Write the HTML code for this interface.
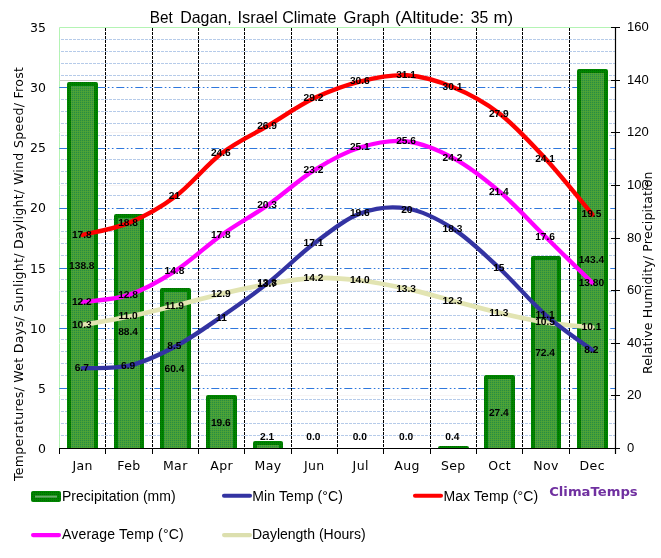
<!DOCTYPE html>
<html><head><meta charset="utf-8"><title>Bet Dagan, Israel Climate Graph</title>
<style>html,body{margin:0;padding:0;background:#fff}svg{display:block}</style></head>
<body>
<svg width="661" height="558" viewBox="0 0 661 558">
<defs><clipPath id="pc"><rect x="59.50" y="26.50" width="556.00" height="421.50"/></clipPath>
<pattern id="hb" width="2" height="2" patternUnits="userSpaceOnUse"><rect width="2" height="2" fill="#40a040"/><rect x="0" y="0" width="1" height="1" fill="#2f8c3c"/><rect x="1" y="1" width="1" height="1" fill="#58a42c"/></pattern>
<pattern id="hd" width="2" height="2" patternUnits="userSpaceOnUse"><rect width="2" height="2" fill="#008600"/><rect x="0" y="0" width="1" height="1" fill="#006a00"/></pattern>
</defs>
<rect width="661" height="558" fill="#fff"/>
<path d="M59.5,448.0 V27.5 H615.5" fill="none" stroke="#b4f4b4" stroke-width="1"/>
<path d="M59.5,435.5 H615.5 M59.5,423.5 H615.5 M59.5,411.5 H615.5 M59.5,399.5 H615.5 M59.5,375.5 H615.5 M59.5,363.5 H615.5 M59.5,351.5 H615.5 M59.5,339.5 H615.5 M59.5,315.5 H615.5 M59.5,303.5 H615.5 M59.5,291.5 H615.5 M59.5,279.5 H615.5 M59.5,255.5 H615.5 M59.5,243.5 H615.5 M59.5,231.5 H615.5 M59.5,219.5 H615.5 M59.5,195.5 H615.5 M59.5,183.5 H615.5 M59.5,171.5 H615.5 M59.5,159.5 H615.5 M59.5,135.5 H615.5 M59.5,123.5 H615.5 M59.5,111.5 H615.5 M59.5,99.5 H615.5 M59.5,75.5 H615.5 M59.5,63.5 H615.5 M59.5,51.5 H615.5 M59.5,39.5 H615.5" fill="none" stroke="#b6cbe9" stroke-width="1" stroke-dasharray="3 1" stroke-dashoffset="2.5"/>
<path d="M59.5,395.5 H615.5 M59.5,343.5 H615.5 M59.5,290.5 H615.5 M59.5,238.5 H615.5 M59.5,185.5 H615.5 M59.5,132.5 H615.5 M59.5,80.5 H615.5" fill="none" stroke="#f7f4f4" stroke-width="1"/>
<path d="M59.5,80.5 H615.5" fill="none" stroke="#cbcbc8" stroke-width="1"/>
<path d="M59.3,388.5 H615.5 M59.3,328.5 H615.5 M59.3,268.5 H615.5 M59.3,208.5 H615.5 M59.3,148.5 H615.5 M59.3,87.5 H615.5" fill="none" stroke="#1265d8" stroke-opacity="0.88" stroke-width="1.05" stroke-dasharray="8 2.5 1.6 2.5 1.6 2.8"/>
<path d="M105.5,28.0 V448.5 M152.5,28.0 V448.5 M198.5,28.0 V448.5 M244.5,28.0 V448.5 M291.5,28.0 V448.5 M337.5,28.0 V448.5 M383.5,28.0 V448.5 M430.5,28.0 V448.5 M476.5,28.0 V448.5 M522.5,28.0 V448.5 M569.5,28.0 V448.5" fill="none" stroke="#000" stroke-width="1" stroke-dasharray="3 1"/>
<g clip-path="url(#pc)">
<rect x="69.00" y="84.00" width="27.00" height="366.50" fill="url(#hb)" stroke="url(#hd)" stroke-width="4" stroke-linejoin="round"/>
<rect x="116.00" y="216.00" width="26.00" height="234.50" fill="url(#hb)" stroke="url(#hd)" stroke-width="4" stroke-linejoin="round"/>
<rect x="162.00" y="290.00" width="27.00" height="160.50" fill="url(#hb)" stroke="url(#hd)" stroke-width="4" stroke-linejoin="round"/>
<rect x="208.00" y="397.00" width="27.00" height="53.50" fill="url(#hb)" stroke="url(#hd)" stroke-width="4" stroke-linejoin="round"/>
<rect x="255.00" y="443.00" width="26.00" height="7.50" fill="url(#hb)" stroke="url(#hd)" stroke-width="4" stroke-linejoin="round"/>
<rect x="440.00" y="448.00" width="27.00" height="2.50" fill="url(#hb)" stroke="url(#hd)" stroke-width="4" stroke-linejoin="round"/>
<rect x="486.00" y="377.00" width="27.00" height="73.50" fill="url(#hb)" stroke="url(#hd)" stroke-width="4" stroke-linejoin="round"/>
<rect x="533.00" y="258.00" width="26.00" height="192.50" fill="url(#hb)" stroke="url(#hd)" stroke-width="4" stroke-linejoin="round"/>
<rect x="579.00" y="71.00" width="27.00" height="379.50" fill="url(#hb)" stroke="url(#hd)" stroke-width="4" stroke-linejoin="round"/>
</g>
<path d="M59.0,448.5 H620.0" stroke="#000" stroke-width="1.2" fill="none"/>
<path d="M59.5,448.5 V454.0 M105.5,448.5 V454.0 M152.5,448.5 V454.0 M198.5,448.5 V454.0 M244.5,448.5 V454.0 M291.5,448.5 V454.0 M337.5,448.5 V454.0 M383.5,448.5 V454.0 M430.5,448.5 V454.0 M476.5,448.5 V454.0 M522.5,448.5 V454.0 M569.5,448.5 V454.0 M615.5,448.5 V454.0" stroke="#000" stroke-width="1" fill="none"/>
<path d="M615.5,27.0 V454.0" stroke="#000" stroke-width="1.2" fill="none"/>
<path d="M611.0,395.5 H620.0 M611.0,343.5 H620.0 M611.0,290.5 H620.0 M611.0,238.5 H620.0 M611.0,185.5 H620.0 M611.0,132.5 H620.0 M611.0,80.5 H620.0 M611.0,27.5 H620.0" stroke="#000" stroke-width="1.2" fill="none"/>
<path d="M82.67,324.90 C90.39,323.50 113.56,319.70 129.00,316.50 C144.44,313.30 159.89,309.50 175.33,305.70 C190.78,301.90 206.22,297.30 221.67,293.70 C237.11,290.10 252.56,286.70 268.00,284.10 C283.44,281.50 298.89,278.70 314.33,278.10 C329.78,277.50 345.22,278.70 360.67,280.50 C376.11,282.30 391.56,285.50 407.00,288.90 C422.44,292.30 437.89,296.90 453.33,300.90 C468.78,304.90 484.22,309.30 499.67,312.90 C515.11,316.50 530.56,320.10 546.00,322.50 C561.44,324.90 584.61,326.50 592.33,327.30" fill="none" stroke="#e2e4b2" stroke-width="4.7" stroke-linecap="round" stroke-linejoin="round"/>
<path d="M82.67,302.10 C90.39,300.90 113.56,300.10 129.00,294.90 C144.44,289.70 159.89,280.90 175.33,270.90 C190.78,260.90 206.22,245.90 221.67,234.90 C237.11,223.90 252.56,215.70 268.00,204.90 C283.44,194.10 298.89,179.70 314.33,170.10 C329.78,160.50 345.22,152.10 360.67,147.30 C376.11,142.50 391.56,139.50 407.00,141.30 C422.44,143.10 437.89,149.70 453.33,158.10 C468.78,166.50 484.22,178.50 499.67,191.70 C515.11,204.90 530.56,222.10 546.00,237.30 C561.44,252.50 584.61,275.30 592.33,282.90" fill="none" stroke="#ff00ff" stroke-width="4.3" stroke-linecap="round" stroke-linejoin="round"/>
<path d="M82.67,234.90 C90.39,232.90 113.56,229.30 129.00,222.90 C144.44,216.50 159.89,208.10 175.33,196.50 C190.78,184.90 206.22,165.10 221.67,153.30 C237.11,141.50 252.56,134.90 268.00,125.70 C283.44,116.50 298.89,105.50 314.33,98.10 C329.78,90.70 345.22,85.10 360.67,81.30 C376.11,77.50 391.56,74.30 407.00,75.30 C422.44,76.30 437.89,80.90 453.33,87.30 C468.78,93.70 484.22,101.70 499.67,113.70 C515.11,125.70 530.56,142.50 546.00,159.30 C561.44,176.10 584.61,205.30 592.33,214.50" fill="none" stroke="#ff0000" stroke-width="4.4" stroke-linecap="round" stroke-linejoin="round"/>
<path d="M82.67,368.10 C90.39,367.70 113.56,369.30 129.00,365.70 C144.44,362.10 159.89,354.70 175.33,346.50 C190.78,338.30 206.22,327.10 221.67,316.50 C237.11,305.90 252.56,295.10 268.00,282.90 C283.44,270.70 298.89,254.90 314.33,243.30 C329.78,231.70 345.22,219.10 360.67,213.30 C376.11,207.50 391.56,205.90 407.00,208.50 C422.44,211.10 437.89,218.90 453.33,228.90 C468.78,238.90 484.22,254.10 499.67,268.50 C515.11,282.90 530.56,301.70 546.00,315.30 C561.44,328.90 584.61,344.30 592.33,350.10" fill="none" stroke="#3333a2" stroke-width="4.3" stroke-linecap="round" stroke-linejoin="round"/>
<g font-family="'Liberation Sans', Arial, sans-serif" font-weight="bold" font-size="10.2px" text-rendering="geometricPrecision" text-anchor="middle" fill="#000">
<text x="81.8" y="269.1">138.8</text>
<text x="128.1" y="335.4">88.4</text>
<text x="174.4" y="372.2">60.4</text>
<text x="220.8" y="425.9">19.6</text>
<text x="267.1" y="439.5">2.1</text>
<text x="313.4" y="439.5">0.0</text>
<text x="359.8" y="439.5">0.0</text>
<text x="406.1" y="439.5">0.0</text>
<text x="452.4" y="439.5">0.4</text>
<text x="498.8" y="415.7">27.4</text>
<text x="545.1" y="356.4">72.4</text>
<text x="591.4" y="263.0">143.4</text>
<text x="81.8" y="327.7">10.3</text>
<text x="128.1" y="319.3">11.0</text>
<text x="174.4" y="308.5">11.9</text>
<text x="220.8" y="296.5">12.9</text>
<text x="267.1" y="286.9">13.7</text>
<text x="313.4" y="280.9">14.2</text>
<text x="359.8" y="283.3">14.0</text>
<text x="406.1" y="291.7">13.3</text>
<text x="452.4" y="303.7">12.3</text>
<text x="498.8" y="315.7">11.3</text>
<text x="545.1" y="325.3">10.5</text>
<text x="591.4" y="330.1">10.1</text>
<text x="81.8" y="304.9">12.2</text>
<text x="128.1" y="297.7">12.8</text>
<text x="174.4" y="273.7">14.8</text>
<text x="220.8" y="237.7">17.8</text>
<text x="267.1" y="207.7">20.3</text>
<text x="313.4" y="172.9">23.2</text>
<text x="359.8" y="150.1">25.1</text>
<text x="406.1" y="144.1">25.6</text>
<text x="452.4" y="160.9">24.2</text>
<text x="498.8" y="194.5">21.4</text>
<text x="545.1" y="240.1">17.6</text>
<text x="591.4" y="285.7">13.80</text>
<text x="81.8" y="237.7">17.8</text>
<text x="128.1" y="225.7">18.8</text>
<text x="174.4" y="199.3">21</text>
<text x="220.8" y="156.1">24.6</text>
<text x="267.1" y="128.5">26.9</text>
<text x="313.4" y="100.9">29.2</text>
<text x="359.8" y="84.1">30.6</text>
<text x="406.1" y="78.1">31.1</text>
<text x="452.4" y="90.1">30.1</text>
<text x="498.8" y="116.5">27.9</text>
<text x="545.1" y="162.1">24.1</text>
<text x="591.4" y="217.3">19.5</text>
<text x="81.8" y="370.9">6.7</text>
<text x="128.1" y="368.5">6.9</text>
<text x="174.4" y="349.3">8.5</text>
<text x="221.5" y="320.5">11</text>
<text x="267.1" y="285.7">13.8</text>
<text x="313.4" y="246.1">17.1</text>
<text x="359.8" y="216.1">19.6</text>
<text x="406.8" y="212.5">20</text>
<text x="452.4" y="231.7">18.3</text>
<text x="498.8" y="271.3">15</text>
<text x="545.1" y="318.1">11.1</text>
<text x="591.4" y="352.9">8.2</text>
</g>
<g font-family="'DejaVu Sans', Verdana, sans-serif" font-size="12px" fill="#000">
<text x="46" y="453.0" text-anchor="end" font-size="12.5px">0</text>
<text x="46" y="392.9" text-anchor="end" font-size="12.5px">5</text>
<text x="46" y="332.7" text-anchor="end" font-size="12.5px">10</text>
<text x="46" y="272.6" text-anchor="end" font-size="12.5px">15</text>
<text x="46" y="212.4" text-anchor="end" font-size="12.5px">20</text>
<text x="46" y="152.2" text-anchor="end" font-size="12.5px">25</text>
<text x="46" y="92.1" text-anchor="end" font-size="12.5px">30</text>
<text x="46" y="32.0" text-anchor="end" font-size="12.5px">35</text>
<text x="82.7" y="470" text-anchor="middle" font-size="12.5px" letter-spacing="0.4">Jan</text>
<text x="129.0" y="470" text-anchor="middle" font-size="12.5px" letter-spacing="0.4">Feb</text>
<text x="175.3" y="470" text-anchor="middle" font-size="12.5px" letter-spacing="0.4">Mar</text>
<text x="221.7" y="470" text-anchor="middle" font-size="12.5px" letter-spacing="0.4">Apr</text>
<text x="268.0" y="470" text-anchor="middle" font-size="12.5px" letter-spacing="0.4">May</text>
<text x="314.3" y="470" text-anchor="middle" font-size="12.5px" letter-spacing="0.4">Jun</text>
<text x="360.7" y="470" text-anchor="middle" font-size="12.5px" letter-spacing="0.4">Jul</text>
<text x="407.0" y="470" text-anchor="middle" font-size="12.5px" letter-spacing="0.4">Aug</text>
<text x="453.3" y="470" text-anchor="middle" font-size="12.5px" letter-spacing="0.4">Sep</text>
<text x="499.7" y="470" text-anchor="middle" font-size="12.5px" letter-spacing="0.4">Oct</text>
<text x="546.0" y="470" text-anchor="middle" font-size="12.5px" letter-spacing="0.4">Nov</text>
<text x="592.3" y="470" text-anchor="middle" font-size="12.5px" letter-spacing="0.4">Dec</text>
<text transform="translate(22.7,481) rotate(-90)" textLength="414" font-size="12.5px">Temperatures/ Wet Days/ Sunlight/ Daylight/ Wind Speed/ Frost</text>
<text transform="translate(652.2,374) rotate(-90)" textLength="202.5" font-size="12.5px">Relative Humidity/ Precipitation</text>
</g>
<g font-family="'Liberation Sans', Arial, sans-serif" font-size="13px" fill="#000">
<text x="627" y="451.6">0</text>
<text x="627" y="398.6">20</text>
<text x="627" y="346.6">40</text>
<text x="627" y="293.6">60</text>
<text x="627" y="241.6">80</text>
<text x="627" y="188.6">100</text>
<text x="627" y="135.6">120</text>
<text x="627" y="83.6">140</text>
<text x="627" y="30.6">160</text>
</g>
<g font-family="'Liberation Sans', Arial, sans-serif" font-size="16.5px" fill="#000">
<text x="149.7" y="22.6" textLength="23.0" lengthAdjust="spacingAndGlyphs">Bet</text>
<text x="180.2" y="22.6" textLength="51.5" lengthAdjust="spacingAndGlyphs">Dagan,</text>
<text x="237.4" y="22.6" textLength="40.3" lengthAdjust="spacingAndGlyphs">Israel</text>
<text x="282.2" y="22.6" textLength="54.3" lengthAdjust="spacingAndGlyphs">Climate</text>
<text x="343.6" y="22.6" textLength="46.0" lengthAdjust="spacingAndGlyphs">Graph</text>
<text x="395.0" y="22.6" textLength="69.0" lengthAdjust="spacingAndGlyphs">(Altitude:</text>
<text x="470.7" y="22.6" textLength="17.5" lengthAdjust="spacingAndGlyphs">35</text>
<text x="493.4" y="22.6" textLength="19.6" lengthAdjust="spacingAndGlyphs">m)</text>
</g>
<g font-family="'Liberation Sans', Arial, sans-serif" font-size="14px" fill="#000">
<rect x="31" y="491" width="30" height="11" rx="2" fill="url(#hd)"/><rect x="35" y="495.6" width="22" height="2" fill="#6aab6a"/>
<text x="62" y="501">Precipitation (mm)</text>
<path d="M224,495.8 H250" stroke="#3333a2" stroke-width="4.1" stroke-linecap="round"/>
<text x="252.2" y="501" textLength="90.8">Min Temp (°C)</text>
<path d="M415,495.8 H441" stroke="#ff0000" stroke-width="4.1" stroke-linecap="round"/>
<text x="443.4" y="501" textLength="94.8">Max Temp (°C)</text>
<path d="M33,535.1 H59" stroke="#ff00ff" stroke-width="4.1" stroke-linecap="round"/>
<text x="62" y="539" textLength="121.7">Average Temp (°C)</text>
<path d="M224,535.1 H250" stroke="#dcdfae" stroke-width="4.1" stroke-linecap="round"/>
<text x="252" y="539">Daylength (Hours)</text>
</g>
<text x="549.2" y="496" font-family="'DejaVu Sans', Verdana, sans-serif" font-weight="bold" font-size="13px" textLength="88.5" lengthAdjust="spacingAndGlyphs" fill="#7030a0">ClimaTemps</text>
</svg>
</body></html>
